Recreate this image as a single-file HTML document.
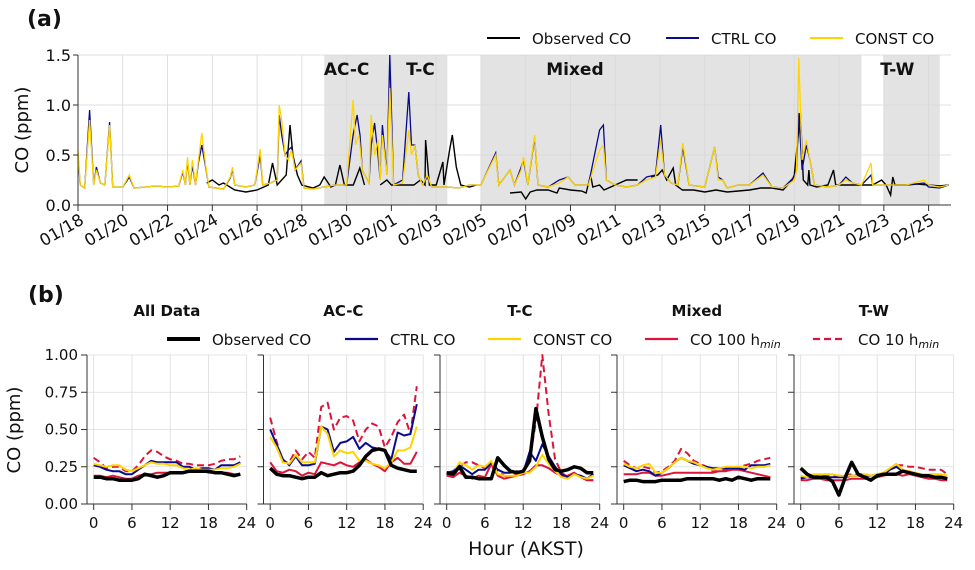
<!DOCTYPE html>
<html><head><meta charset="utf-8"><style>
html,body{margin:0;padding:0;background:#fff;}
svg{display:block;font-family:"DejaVu Sans","Liberation Sans",sans-serif;}
</style></head><body>
<svg id="fig" width="975" height="570" viewBox="0 0 975 570"></svg>
<script>
// ---------- Panel (a) data: [day since 01/18, ppm] ----------
const dateLabels = ["01/18","01/20","01/22","01/24","01/26","01/28","01/30","02/01","02/03","02/05","02/07","02/09","02/11","02/13","02/15","02/17","02/19","02/21","02/23","02/25"];
const regionNames = ["AC-C","T-C","Mixed","T-W"];
const regionStart = [11,15.05,18,36];
const regionEnd = [15.05,16.5,35,38.5];
const regionLabelDay = [12.0,15.3,22.2,36.6];
const yTicksA = [0.0,0.5,1.0,1.5];
const constSeries = [[0,.55],[0.1,.2],[0.3,.17],[0.52,.85],[0.7,.2],[0.82,.35],[1.0,.22],[1.2,.2],[1.41,.8],[1.55,.18],[2.0,.18],[2.29,.3],[2.5,.17],[3,.18],[3.5,.19],[4,.18],[4.5,.19],[4.68,.35],[4.8,.2],[4.89,.48],[5.0,.2],[5.11,.45],[5.25,.2],[5.38,.45],[5.53,.72],[5.7,.4],[5.85,.18],[6.5,.16],[6.8,.28],[6.9,.38],[7.0,.2],[7.5,.18],[7.9,.2],[8.14,.56],[8.25,.2],[8.6,.22],[8.9,.25],[8.99,1.0],[9.1,.85],[9.25,.5],[9.4,.45],[9.54,.55],[9.7,.35],[9.96,.42],[10.1,.17],[10.5,.16],[11,.18],[11.5,.2],[12,.2],[12.29,1.05],[12.4,.6],[12.55,.7],[12.7,.35],[13,.22],[13.1,.9],[13.25,.5],[13.4,.65],[13.5,.25],[13.6,.7],[13.8,.3],[13.93,1.17],[14.1,.2],[14.5,.22],[14.78,.75],[14.9,.5],[15.05,.6],[15.2,.3],[15.4,.2],[15.6,.3],[15.8,.18],[16.5,.18],[17,.17],[17.5,.2],[18,.2],[18.1,.25],[18.66,.5],[18.8,.2],[19.3,.35],[19.5,.2],[19.8,.35],[19.9,.48],[20.1,.2],[20.4,.7],[20.55,.2],[21,.18],[21.5,.22],[21.9,.28],[22.2,.2],[22.8,.2],[23.3,.55],[23.47,.6],[23.6,.25],[24,.2],[24.5,.18],[25,.2],[25.4,.25],[25.8,.28],[26.03,.65],[26.2,.3],[26.5,.22],[26.8,.2],[27.02,.62],[27.3,.2],[28,.18],[28.44,.58],[28.6,.25],[28.8,.25],[29,.17],[29.5,.2],[30,.2],[30.6,.3],[31,.18],[31.5,.17],[32,.25],[32.1,.35],[32.2,1.47],[32.35,.45],[32.54,.65],[32.7,.45],[32.9,.2],[33.5,.18],[34,.2],[34.3,.25],[34.6,.22],[35,.2],[35.43,.42],[35.5,.2],[36,.2],[36.5,.2],[37,.2],[37.8,.25],[38,.2],[38.5,.18],[38.9,.2]];
const ctrlSeries = [[0,.5],[0.1,.2],[0.3,.17],[0.52,.95],[0.7,.2],[0.82,.38],[1.0,.22],[1.2,.2],[1.41,.83],[1.55,.18],[2.0,.18],[2.29,.28],[2.5,.17],[3,.18],[3.5,.19],[4,.18],[4.5,.19],[4.68,.33],[4.8,.2],[4.89,.45],[5.0,.2],[5.11,.4],[5.25,.2],[5.38,.42],[5.53,.6],[5.7,.38],[5.85,.18],[6.5,.16],[6.8,.27],[6.9,.36],[7.0,.2],[7.5,.18],[7.9,.2],[8.14,.5],[8.25,.2],[8.6,.22],[8.9,.25],[8.99,.9],[9.1,.7],[9.25,.5],[9.4,.55],[9.54,.58],[9.7,.35],[9.96,.44],[10.1,.17],[10.5,.16],[11,.18],[11.5,.2],[12,.2],[12.29,.7],[12.47,.9],[12.6,.7],[12.7,.35],[13,.22],[13.1,.6],[13.25,.82],[13.4,.5],[13.5,.25],[13.6,.8],[13.8,.3],[13.93,1.5],[14.1,.2],[14.5,.25],[14.78,1.13],[14.9,.6],[15.05,.6],[15.2,.3],[15.4,.2],[15.6,.28],[15.8,.18],[16.5,.18],[17,.17],[17.5,.2],[18,.2],[18.1,.25],[18.66,.52],[18.8,.2],[19.3,.35],[19.5,.2],[19.8,.38],[19.9,.45],[20.1,.2],[20.4,.68],[20.55,.2],[21,.18],[21.5,.25],[21.9,.28],[22.2,.2],[22.8,.2],[23.3,.75],[23.47,.8],[23.6,.25],[24,.2],[24.5,.18],[25,.2],[25.4,.28],[25.8,.3],[26.03,.8],[26.2,.3],[26.5,.22],[26.8,.2],[27.02,.58],[27.3,.2],[28,.18],[28.44,.58],[28.6,.28],[28.8,.25],[29,.17],[29.5,.2],[30,.2],[30.6,.32],[31,.18],[31.5,.17],[32,.28],[32.1,.35],[32.2,.92],[32.35,.35],[32.54,.6],[32.7,.45],[32.9,.2],[33.5,.18],[34,.2],[34.3,.28],[34.6,.22],[35,.2],[35.43,.3],[35.5,.2],[36,.2],[36.5,.2],[37,.2],[37.8,.22],[38,.18],[38.5,.17],[38.9,.2]];
const obsSeries = [[5.75,.22],[6.0,.25],[6.3,.2],[6.5,.22],[7,.15],[7.5,.13],[8,.15],[8.5,.2],[8.69,.42],[8.9,.2],[9.3,.3],[9.47,.8],[9.6,.5],[9.8,.3],[10,.2],[10.5,.17],[10.8,.2],[11,.28],[11.3,.18],[11.5,.2],[11.7,.4],[11.9,.2],[12.3,.2],[12.59,.37],[12.8,.2],[13.5,.2],[13.8,.25],[14,.2],[14.5,.2],[15,.2],[15.3,.25],[15.5,.2],[15.53,.65],[15.7,.2],[16,.2],[16.3,.43],[16.35,.2],[16.6,.55],[16.72,.7],[16.9,.38],[17.1,.2],[17.5,.18],[17.8,.2],[18.74,.12],[19.3,.12],[19.8,.13],[20.0,.06],[20.2,.13],[20.5,.15],[21,.15],[21.4,.12],[21.5,.17],[22.0,.15],[22.5,.14],[22.7,.12],[22.9,.3],[23.0,.18],[23.3,.2],[23.5,.15],[24,.2],[24.5,.25],[25,.25],[25.6,.28],[25.9,.3],[26.1,.35],[26.3,.25],[26.59,.37],[26.7,.2],[27,.15],[27.5,.15],[28,.13],[28.5,.15],[29,.13],[29.5,.14],[30,.15],[30.5,.17],[31,.17],[31.5,.15],[31.9,.25],[32.0,.3],[32.27,.92],[32.4,.25],[32.6,.2],[32.65,.35],[32.7,.2],[33,.18],[33.5,.2],[33.75,.35],[33.85,.2],[34,.2],[34.5,.2],[35,.2],[35.5,.2],[35.9,.25],[36.1,.2],[36.3,.1],[36.4,.28],[36.5,.2],[37,.2],[37.5,.21],[38,.2],[38.5,.19],[38.9,.2]];

// ---------- Panel (b) data ----------
const hours = [0,1,2,3,4,5,6,7,8,9,10,11,12,13,14,15,16,17,18,19,20,21,22,23];
const panelTitles = ["All Data","AC-C","T-C","Mixed","T-W"];
const yTicksB = [0.00,0.25,0.50,0.75,1.00];
const xTicksB = [0,6,12,18,24];
const allObs=[.18,.18,.17,.17,.16,.16,.16,.17,.20,.19,.18,.19,.21,.21,.21,.22,.22,.22,.22,.21,.21,.20,.19,.20];
const allCtrl=[.26,.25,.23,.22,.22,.20,.20,.23,.26,.29,.28,.28,.28,.28,.25,.25,.23,.24,.24,.23,.26,.26,.26,.28];
const allConst=[.27,.26,.25,.26,.26,.23,.22,.24,.26,.28,.27,.27,.26,.26,.24,.23,.24,.23,.23,.23,.24,.24,.25,.27];
const all100=[.19,.19,.18,.19,.18,.17,.17,.19,.20,.20,.21,.21,.21,.21,.21,.22,.22,.22,.21,.21,.21,.21,.20,.20];
const all10=[.31,.28,.24,.25,.25,.22,.22,.26,.32,.36,.35,.32,.30,.29,.27,.27,.26,.26,.26,.27,.29,.30,.30,.32];
const accObs=[.24,.20,.19,.19,.18,.17,.18,.18,.21,.19,.20,.21,.21,.22,.26,.32,.36,.37,.36,.26,.24,.23,.22,.22];
const accCtrl=[.50,.40,.30,.26,.32,.26,.26,.27,.52,.50,.35,.41,.42,.45,.37,.41,.38,.37,.36,.30,.48,.46,.47,.67];
const accConst=[.45,.38,.28,.27,.33,.28,.28,.28,.52,.47,.32,.36,.34,.35,.29,.29,.27,.26,.24,.28,.36,.36,.38,.52];
const acc100=[.28,.22,.21,.23,.22,.19,.21,.20,.28,.27,.26,.28,.26,.25,.28,.30,.27,.25,.22,.28,.31,.27,.27,.35];
const acc10=[.58,.42,.28,.28,.36,.30,.35,.31,.65,.68,.50,.58,.59,.56,.42,.50,.54,.52,.38,.45,.55,.60,.47,.79];
const tcObs=[.21,.20,.25,.18,.18,.17,.17,.17,.31,.26,.22,.21,.22,.29,.64,.45,.30,.23,.22,.23,.25,.24,.21,.21];
const tcCtrl=[.21,.22,.26,.23,.20,.23,.23,.28,.23,.21,.21,.22,.21,.35,.29,.40,.32,.25,.20,.18,.20,.19,.17,.20];
const tcConst=[.21,.20,.28,.26,.23,.26,.25,.29,.20,.19,.19,.19,.21,.21,.25,.33,.27,.22,.18,.17,.20,.18,.17,.19];
const tc100=[.19,.18,.21,.19,.17,.19,.18,.27,.19,.17,.18,.19,.20,.22,.26,.26,.24,.21,.19,.19,.21,.18,.16,.16];
const tc10=[.20,.18,.25,.28,.28,.26,.24,.25,.22,.19,.18,.20,.21,.30,.55,1.0,.60,.30,.21,.18,.20,.19,.16,.16];
const mxObs=[.15,.16,.16,.15,.15,.15,.16,.16,.16,.16,.17,.17,.17,.17,.17,.16,.17,.16,.18,.17,.16,.17,.17,.17];
const mxCtrl=[.26,.24,.22,.23,.22,.19,.21,.24,.28,.31,.29,.27,.26,.25,.24,.24,.24,.24,.24,.23,.26,.26,.26,.27];
const mxConst=[.27,.25,.24,.26,.27,.21,.21,.24,.28,.31,.29,.28,.26,.24,.23,.24,.25,.25,.25,.25,.24,.25,.25,.26];
const mx100=[.20,.20,.20,.21,.21,.19,.19,.20,.21,.21,.21,.21,.21,.21,.21,.22,.22,.23,.23,.22,.21,.20,.19,.18];
const mx10=[.29,.26,.24,.25,.24,.21,.22,.25,.29,.37,.34,.29,.27,.25,.22,.22,.23,.24,.24,.26,.27,.29,.30,.31];
const twObs=[.24,.20,.18,.18,.18,.15,.06,.18,.28,.20,.18,.16,.19,.20,.20,.20,.22,.21,.20,.19,.19,.18,.18,.17];
const twCtrl=[.17,.18,.18,.18,.18,.18,.18,.18,.19,.19,.19,.19,.20,.20,.23,.25,.22,.22,.20,.19,.19,.18,.18,.17];
const twConst=[.19,.18,.20,.20,.20,.20,.19,.19,.19,.19,.20,.19,.20,.21,.24,.27,.23,.22,.21,.20,.20,.20,.20,.19];
const tw100=[.16,.16,.17,.17,.16,.16,.16,.16,.17,.17,.17,.17,.18,.19,.20,.20,.19,.20,.19,.18,.17,.17,.16,.16];
const tw10=[.18,.18,.19,.19,.19,.19,.19,.19,.20,.20,.20,.19,.20,.20,.23,.26,.26,.25,.25,.24,.23,.23,.23,.20];

const NS="http://www.w3.org/2000/svg";
const svg=document.getElementById('fig');
function mk(tag,attrs,parent,text){const e=document.createElementNS(NS,tag);for(const k in attrs)e.setAttribute(k,attrs[k]);if(text!==undefined)e.textContent=text;(parent||svg).appendChild(e);return e;}

// ---------- Panel (a) ----------
const AX0=78,AX1=951,AY0=205,AY1=55,DMAX=39;
const xA=d=>AX0+(AX1-AX0)*d/DMAX;
const yA=v=>AY0+(AY1-AY0)*v/1.5;
const ga=mk('g',{});


for(let i=0;i<regionNames.length;i++){
  const r=mk('rect',{x:xA(regionStart[i]),y:AY1,width:xA(regionEnd[i])-xA(regionStart[i]),height:AY0-AY1,fill:'#e3e3e3'},ga);
  
  
}
dateLabels.forEach((lab,i)=>{
  const x=xA(i*2);
  const g=mk('line',{x1:x,x2:x,y1:AY1,y2:AY0,stroke:'#d8d8d8','stroke-width':0.8},ga);
  
  
  mk('line',{x1:x,x2:x,y1:AY0,y2:AY0+6,stroke:'#333','stroke-width':1},ga);
  const t=mk('text',{x:x+7,y:AY0+18,'font-size':16.5,'text-anchor':'end',fill:'#111',transform:`rotate(-30 ${x+7} ${AY0+18})`},ga,lab);
  
  
});
yTicksA.forEach(v=>{
  const y=yA(v);
  if(v>0){const g=mk('line',{x1:AX0,x2:AX1,y1:y,y2:y,stroke:'#d8d8d8','stroke-width':0.8},ga);
  
  }
  mk('line',{x1:AX0-5,x2:AX0,y1:y,y2:y,stroke:'#333'},ga);
  const t=mk('text',{x:AX0-7,y:y+6,'font-size':16,'text-anchor':'end',fill:'#111'},ga,v.toFixed(1));
  
  
});
regionNames.forEach((n,i)=>{
  const t=mk('text',{x:xA(regionLabelDay[i]),y:75,'font-size':17,'font-weight':'bold','text-anchor':'middle',fill:'#111'},ga,n);
  
  
});
function pathA(arr){return arr.map((p,i)=>(i?'L':'M')+xA(p[0]).toFixed(1)+','+yA(p[1]).toFixed(1)).join('');}
function pathObs(arr){let d='';for(let i=0;i<arr.length;i++){const gap=i>0&&arr[i][0]-arr[i-1][0]>0.5;d+=((i==0||gap)?'M':'L')+xA(arr[i][0]).toFixed(1)+','+yA(arr[i][1]).toFixed(1);}return d;}
let p=mk('path',{d:pathObs(obsSeries),fill:'none',stroke:'#000','stroke-width':1.4},ga);


p=mk('path',{d:pathA(ctrlSeries),fill:'none',stroke:'#0a0a8c','stroke-width':1.3},ga);


p=mk('path',{d:pathA(constSeries),fill:'none',stroke:'#ffd500','stroke-width':1.3},ga);


mk('line',{x1:AX0,x2:AX0,y1:AY1,y2:AY0,stroke:'#333'},ga);
mk('line',{x1:AX0,x2:AX1,y1:AY0,y2:AY0,stroke:'#333'},ga);
let t=mk('text',{x:28,y:130,'font-size':18,'text-anchor':'middle',fill:'#111',transform:'rotate(-90 28 130)'},ga,'CO (ppm)');


t=mk('text',{x:27,y:26,'font-size':22,'font-weight':'bold',fill:'#111'},ga,'(a)');


[[487,'#000','Observed CO'],[666,'#0a0a8c','CTRL CO'],[810,'#ffd500','CONST CO']].forEach(l=>{
  const g=mk('g',{},ga);
  
  
  mk('line',{x1:l[0],x2:l[0]+33,y1:38,y2:38,stroke:l[1],'stroke-width':2},g);
  mk('text',{x:l[0]+45,y:44,'font-size':15,fill:'#111'},g,l[2]);
});

// ---------- Panel (b) ----------
const BY0=504,BY1=355,PW=6.375;
const panelLeft=[87,263.5,440,617,794];
const yB=v=>BY0+(BY1-BY0)*v;
const panelData=[[allObs,allCtrl,allConst,all100,all10],[accObs,accCtrl,accConst,acc100,acc10],[tcObs,tcCtrl,tcConst,tc100,tc10],[mxObs,mxCtrl,mxConst,mx100,mx10],[twObs,twCtrl,twConst,tw100,tw10]];
const sNames=['observed-co','ctrl-co','const-co','co-100-hmin','co-10-hmin'];
const sColor=['#000','#0a0a8c','#ffd500','#dc143c','#dc143c'];
const sWidth=[3.5,2,2,2,2];
panelLeft.forEach((L,pi)=>{
  const x0=L+1.05*PW;
  const xB=h=>x0+h*PW;
  const g=mk('g',{});
  
  
  xTicksB.forEach(h=>{
    mk('line',{x1:xB(h),x2:xB(h),y1:BY1,y2:BY0,stroke:'#dcdcdc','stroke-width':0.8},g);
    mk('line',{x1:xB(h),x2:xB(h),y1:BY0,y2:BY0+6,stroke:'#333'},g);
    const tl=mk('text',{x:xB(h),y:BY0+24,'font-size':15,'text-anchor':'middle',fill:'#111'},g,String(h));
    
    
  });
  yTicksB.forEach(v=>{
    if(v>0)mk('line',{x1:L,x2:xB(24),y1:yB(v),y2:yB(v),stroke:'#dcdcdc','stroke-width':0.8},g);
    mk('line',{x1:L-6,x2:L,y1:yB(v),y2:yB(v),stroke:'#333'},g);
    if(pi==0){const tl=mk('text',{x:L-9,y:yB(v)+5,'font-size':15,'text-anchor':'end',fill:'#111'},g,v.toFixed(2));
    
    }
  });
  const order=[4,3,1,2,0];
  order.forEach(si=>{
    const arr=panelData[pi][si];
    const d=hours.map((h,i)=>(i?'L':'M')+xB(h).toFixed(1)+','+yB(Math.min(arr[i],1.0)).toFixed(1)).join('');
    const attrs={d:d,fill:'none',stroke:sColor[si],'stroke-width':sWidth[si],'stroke-linejoin':'round'};
    if(si==4)attrs['stroke-dasharray']='7,4';
    const pl=mk('path',attrs,g);
    
    
  });
  mk('line',{x1:L,x2:L,y1:BY1,y2:BY0,stroke:'#333'},g);
  mk('line',{x1:L,x2:xB(24),y1:BY0,y2:BY0,stroke:'#333'},g);
  const tt=mk('text',{x:(L+xB(24))/2,y:316,'font-size':15,'font-weight':'bold','text-anchor':'middle',fill:'#111'},g,panelTitles[pi]);
  
  
});
t=mk('text',{x:20,y:430,'font-size':18,'text-anchor':'middle',fill:'#111',transform:'rotate(-90 20 430)'},svg,'CO (ppm)');


t=mk('text',{x:526,y:555,'font-size':19,'text-anchor':'middle',fill:'#111'},svg,'Hour (AKST)');


t=mk('text',{x:28,y:302,'font-size':22,'font-weight':'bold',fill:'#111'},svg,'(b)');


const legB=[[167,0,'Observed CO'],[345,1,'CTRL CO'],[488,2,'CONST CO'],[645,3,'CO 100 h'],[813,4,'CO 10 h']];
legB.forEach(l=>{
  const g=mk('g',{});
  
  
  const a={x1:l[0],x2:l[0]+33,y1:339,y2:339,stroke:sColor[l[1]],'stroke-width':l[1]==0?4:2.2};
  if(l[1]==4)a['stroke-dasharray']='7,4';
  mk('line',a,g);
  const tx=mk('text',{x:l[0]+45,y:345,'font-size':15,fill:'#111'},g,l[2]);
  if(l[1]>=3){mk('tspan',{'font-size':11,'font-style':'italic',dy:3},tx,'min');}
});
</script>
</body></html>
